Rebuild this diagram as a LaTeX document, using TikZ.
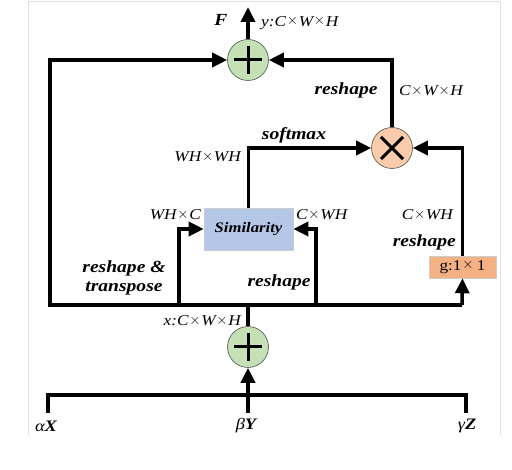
\documentclass[tikz,border=0pt]{standalone}
\usepackage{fontspec}
\setmainfont[FakeStretch=1.15]{Liberation Serif}
\usetikzlibrary{arrows.meta}
\newcommand\tms{\hspace{0.05em}\raisebox{0.22ex}{$\times$}\hspace{0.05em}}
\definecolor{plusgreen}{HTML}{C5E0B4}
\definecolor{timesorange}{HTML}{F8CBAD}
\definecolor{simblue}{HTML}{B4C7E7}
\definecolor{gorange}{HTML}{F4B183}
\begin{document}
\begin{tikzpicture}[x=1pt,y=-1pt,
  conn/.style={line width=3.5pt, black},
  arr/.style={conn, -{Triangle[length=15pt,width=14pt]}},
  op/.style={circle, draw=black!70, line width=0.6pt, minimum size=41pt, inner sep=0pt},
  opsym/.style={line width=3pt, black},
  boxn/.style={draw=black!20, line width=0.6pt, inner sep=0pt},
  lbl/.style={font=\fontsize{17}{20}\selectfont\bfseries\itshape, inner sep=0pt},
  dim/.style={font=\fontsize{15}{17}\selectfont\itshape, inner sep=0pt},
  inp/.style={font=\fontsize{16}{18}\selectfont\itshape, inner sep=0pt}]
\useasboundingbox (0,0) rectangle (512,470);
\draw[black!12, line width=1pt] (28,435) -- (28,1.5) -- (500,1.5) -- (500,435);

% operator nodes
\node[op, fill=plusgreen] (plusT) at (248,60) {};
\node[op, fill=timesorange] (times) at (392,148) {};
\node[op, fill=plusgreen] (plusB) at (248,347) {};
\node[boxn, fill=simblue, minimum width=89pt, minimum height=42pt,
      font=\fontsize{14.5}{17}\selectfont\bfseries\itshape] (sim) at (248.5,229) {Similarity};
\node[boxn, fill=gorange, minimum width=67pt, minimum height=22pt,
      font=\fontsize{15}{17}\selectfont] (g) at (462.5,267) {g:1\tms\,1};

% symbols inside circles
\draw[opsym] ([xshift=-14pt]plusT.center) -- ([xshift=14pt]plusT.center);
\draw[opsym] ([yshift=-14pt]plusT.center) -- ([yshift=14pt]plusT.center);
\draw[opsym] ([xshift=-14pt]plusB.center) -- ([xshift=14pt]plusB.center);
\draw[opsym] ([yshift=-14pt]plusB.center) -- ([yshift=14pt]plusB.center);
\draw[opsym] ([shift={(-11pt,-11pt)}]times.center) -- ([shift={(11pt,11pt)}]times.center);
\draw[opsym] ([shift={(-11pt,11pt)}]times.center) -- ([shift={(11pt,-11pt)}]times.center);

% coordinates
\coordinate (Fend) at (248,7);
\coordinate (busL) at (50,305);
\coordinate (busR) at (462,305);
\coordinate (tapL) at (179,305);
\coordinate (tapR) at (316,305);
\coordinate (inX) at (48,413);
\coordinate (inY) at (248,413);
\coordinate (inZ) at (466,413);
\coordinate (bbL) at (48,395);
\coordinate (bbR) at (466,395);

% connectors
\draw[arr] (plusT.north) -- (Fend);
\draw[arr] (busR) -- (busL) |- (plusT.west);
\draw[arr] (times.north) |- (plusT.east);
\draw[arr] (sim.north) |- (times.west);
\draw[arr] (g.north) |- (times.east);
\draw[arr] (busR) -- (g.south);
\draw[arr] (tapL) |- (sim.west);
\draw[arr] (tapR) |- (sim.east);
\draw[conn] (plusB.north) -- (plusB.north |- busL);
\draw[conn] (inX) -- (bbL) -- (bbR) -- (inZ);
\draw[arr] (inY) -- (plusB.south);

% labels
\node[lbl] (tF) at (221,20) {F};
\node[dim, anchor=west] (ty) at (261,23) {y:C\tms W\tms H};
\node[lbl] (tres1) at (346,90) {reshape};
\node[dim, anchor=west] (tcwh1) at (399,91) {C\tms W\tms H};
\node[lbl] (tsoft) at (294,135) {softmax};
\node[dim, anchor=east] (twhwh) at (241,157) {WH\tms WH};
\node[dim, anchor=east] (twhc) at (201,215) {WH\tms C};
\node[dim, anchor=west] (tcwh2) at (296,215) {C\tms WH};
\node[dim, anchor=east] (tcwh3) at (453,215) {C\tms WH};
\node[lbl, anchor=east] (tres2) at (456,242) {reshape};
\node[lbl, align=center] (tresT) at (124,278) {reshape \&\\[-1pt]transpose};
\node[lbl] (tres3) at (279,282) {reshape};
\node[dim, anchor=east] (tx) at (241,321) {x:C\tms W\tms H};
\node[inp] (tax) at (46,426) {α\textbf{X}};
\node[inp] (tby) at (246,426) {β\textbf{Y}};
\node[inp] (tgz) at (467,426) {γ\textbf{Z}};
\end{tikzpicture}
\end{document}
